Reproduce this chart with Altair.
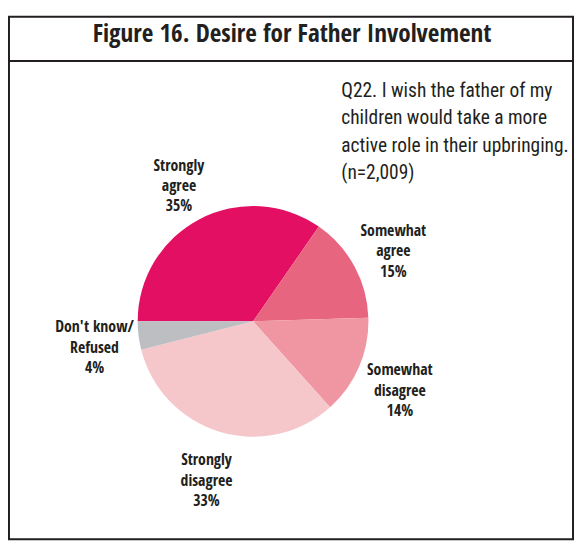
import altair as alt
import pandas as pd
import math

categories = ["Strongly agree", "Somewhat agree", "Somewhat disagree", "Strongly disagree", "Don't know/ Refused"]
label_lines = ["Strongly\nagree", "Somewhat\nagree", "Somewhat\ndisagree", "Strongly\ndisagree", "Don't know/\nRefused"]
values = [35, 15, 14, 33, 4]
colors = ["#E30F62", "#E8657F", "#EF96A2", "#F5C7CB", "#BDBEC2"]

title_text = "Figure 16. Desire for Father Involvement"
question_lines = [
    "Q22. I wish the father of my",
    "children would take a more",
    "active role in their upbringing.",
    "(n=2,009)",
]

df = pd.DataFrame({
    "category": categories,
    "value": values,
    "idx": list(range(len(categories))),
    "label": [f"{l}\n{v}%" for l, v in zip(label_lines, values)],
})

BOLD_FONT = "Open Sans Condensed, Roboto Condensed, DejaVu Sans Condensed, sans-serif"
REG_FONT = "Roboto Condensed, Open Sans Condensed, DejaVu Sans Condensed, sans-serif"
INK = "#231f20"
CX, CY = 247.5, 309

theta_scale = alt.Scale(range=[1.5 * math.pi, 3.5 * math.pi])

base = alt.Chart(df).encode(
    theta=alt.Theta("value:Q", stack=True, scale=theta_scale),
    order=alt.Order("idx:Q"),
)

pie = base.mark_arc(outerRadius=117, stroke=None).encode(
    x=alt.value(CX),
    y=alt.value(CY),
    color=alt.Color("category:N", scale=alt.Scale(domain=categories, range=colors), legend=None),
)

labels = base.mark_text(
    radius=162, font=BOLD_FONT, fontSize=16, fontWeight="bold", color=INK,
    lineBreak="\n", lineHeight=20.5, align="center", baseline="middle", dy=-14,
).encode(
    x=alt.value(CX),
    y=alt.value(CY),
    text="label:N",
)

title_df = pd.DataFrame({"t": [title_text]})
title = alt.Chart(title_df).mark_text(
    font=BOLD_FONT, fontSize=25.5, fontWeight="bold", color=INK, align="center", baseline="middle"
).encode(x=alt.value(287), y=alt.value(18), text="t:N")

rule = alt.Chart(title_df).mark_rule(color=INK, strokeWidth=2).encode(
    x=alt.value(0), x2=alt.value(572), y=alt.value(45)
)

q_df = pd.DataFrame({"q": ["\n".join(question_lines)]})
question = alt.Chart(q_df).mark_text(
    font=REG_FONT, fontSize=19.7, color=INK, align="left", baseline="middle",
    lineBreak="\n", lineHeight=27.8,
).encode(x=alt.value(337), y=alt.value(75.5), text="q:N")

chart = alt.layer(pie, labels, title, rule, question).properties(
    width=572, height=530,
    padding={"left": 1, "top": 5, "right": 1, "bottom": 1},
    autosize=alt.AutoSizeParams(type="none"),
).configure_view(stroke=INK, strokeWidth=2)

chart.save("out.html", embed_options={"renderer": "svg", "actions": False})
